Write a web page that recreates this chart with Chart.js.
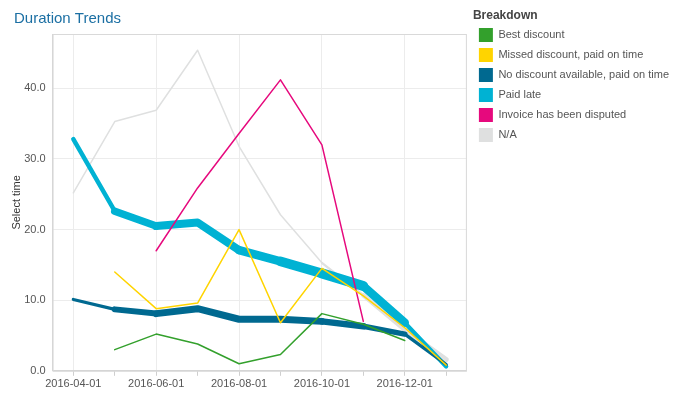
<!DOCTYPE html>
<html>
<head>
<meta charset="utf-8">
<script src="https://cdn.jsdelivr.net/npm/chart.js@4.4.0/dist/chart.umd.min.js"></script>
<style>
body { margin: 0; background: #fff; }
#wrap { width: 686px; height: 399px; }
</style>
</head>
<body>
<div id="wrap"><canvas id="trend"></canvas></div>
<script>
// monthly buckets
const months = ['2016-04-01', '2016-05-01', '2016-06-01', '2016-07-01', '2016-08-01',
    '2016-09-01', '2016-10-01', '2016-11-01', '2016-12-01', '2017-01-01'];

// average duration per breakdown
const bestDiscount = [null, 3.0, 5.2, 3.8, 1.0, 2.3, 8.1, 6.6, 4.3, null];
const missedDiscount = [null, 14.0, 8.8, 9.6, 20.0, 6.8, 14.5, 10.6, 6.1, 0.8];
const noDiscount = [10.1, 8.7, 8.1, 8.8, 7.3, 7.3, 7.0, 6.3, 5.2, 0.9];
const paidLate = [32.8, 22.6, 20.5, 21.0, 17.1, 15.5, 13.8, 12.0, 6.8, 0.6];
const disputed = [null, null, 17.0, 25.9, 33.6, 41.2, 32.0, 7.0, null, null];
const notAvailable = [25.2, 35.3, 36.9, 45.4, 31.8, 22.1, 15.3, 10.7, 5.8, 1.6];

// invoice counts (drawn as line thickness)
const bestDiscountCount = [null, 12, 15, 10, 8, 10, 20, 18, 14, null];
const missedDiscountCount = [null, 10, 14, 12, 18, 12, 22, 20, 16, 8];
const noDiscountCount = [30, 100, 140, 140, 140, 140, 140, 120, 100, 20];
const paidLateCount = [40, 140, 160, 160, 160, 180, 200, 200, 140, 20];
const disputedCount = [null, null, 8, 10, 12, 14, 10, 6, null, null];
const notAvailableCount = [20, 20, 20, 20, 20, 20, 20, 60, 120, 80];

const yTicks = [0, 10, 20, 30, 40];

function thickness(count) {
    if (count == null) return 1.5;
    return Math.max(1.5, count / 20);
}

function series(label, color, values, counts, order) {
    return {
        label: label,
        data: values,
        borderColor: color,
        backgroundColor: color,
        borderWidth: 1.5,
        borderCapStyle: 'round',
        borderJoinStyle: 'round',
        pointRadius: 0,
        tension: 0,
        order: order,
        segment: {
            borderWidth: ctx => (thickness(counts[ctx.p0DataIndex]) + thickness(counts[ctx.p1DataIndex])) / 2
        }
    };
}

// plot frame
const frame = {
    id: 'frame',
    beforeDatasetsDraw(chart) {
        var a = chart.chartArea;
        var c = chart.ctx;
        c.save();
        c.strokeStyle = '#d9d9d9';
        c.lineWidth = 1;
        c.strokeRect(a.left + 0.5, a.top + 0.5, a.right - a.left - 1, a.bottom - a.top);
        c.restore();
    }
};

Chart.defaults.font.family = "'Liberation Sans', Arial, sans-serif";
Chart.defaults.font.size = 11;
Chart.defaults.color = '#555';

const config = {
    type: 'line',
    data: {
        labels: months,
        datasets: [
            series('Best discount', '#33a02c', bestDiscount, bestDiscountCount, 0),
            series('Missed discount, paid on time', '#ffd400', missedDiscount, missedDiscountCount, 0),
            series('No discount available, paid on time', '#006990', noDiscount, noDiscountCount, 1),
            series('Paid late', '#00b2d3', paidLate, paidLateCount, 2),
            series('Invoice has been disputed', '#e6097d', disputed, disputedCount, 0),
            series('N/A', '#dfe0e0', notAvailable, notAvailableCount, 3)
        ]
    },
    options: {
        responsive: true,
        maintainAspectRatio: false,
        animation: false,
        layout: { padding: { left: 14, right: 7, top: 0, bottom: 6 } },
        plugins: {
            tooltip: { enabled: false },
            title: {
                display: true,
                text: 'Duration Trends',
                align: 'start',
                color: '#1b6fa3',
                font: { size: 15, weight: 'normal', lineHeight: 1.2 },
                padding: { top: 10, bottom: 6 }
            },
            legend: {
                position: 'right',
                align: 'start',
                maxWidth: 260,
                title: {
                    display: true,
                    text: 'Breakdown',
                    position: 'start',
                    color: '#444',
                    font: { size: 12, weight: 'bold', lineHeight: 1 },
                    padding: { top: 10, bottom: 0 }
                },
                labels: {
                    boxWidth: 14,
                    boxHeight: 14,
                    padding: 6,
                    color: '#555',
                    sort: (a, b) => a.datasetIndex - b.datasetIndex,
                    generateLabels: chart => Chart.defaults.plugins.legend.labels.generateLabels(chart)
                        .map(l => Object.assign(l, { lineWidth: 0 }))
                }
            }
        },
        scales: {
            x: {
                offset: true,
                grid: {
                    color: ctx => ctx.index % 2 ? 'rgba(0,0,0,0)' : '#ececec',
                    tickColor: '#cfcfcf',
                    tickLength: 5
                },
                border: { color: '#d4d4d4' },
                ticks: {
                    autoSkip: false,
                    maxRotation: 0,
                    padding: 2,
                    callback: function (value, index) {
                        return index % 2 ? '' : months[index];
                    }
                }
            },
            y: {
                min: 0,
                max: 47.7,
                afterBuildTicks: scale => { scale.ticks = yTicks.map(v => ({ value: v })); },
                grid: { color: '#ececec', drawTicks: false },
                border: { color: '#d4d4d4' },
                ticks: {
                    padding: 7,
                    callback: v => v.toFixed(1)
                },
                title: {
                    display: true,
                    text: 'Select time',
                    color: '#333',
                    font: { size: 11 },
                    padding: { top: -4, bottom: -6 }
                }
            },
            gap: {
                position: 'right',
                display: true,
                grid: { display: false },
                border: { display: false },
                ticks: { display: false },
                afterFit: scale => { scale.width = 6; }
            }
        }
    },
    plugins: [frame]
};

new Chart(document.getElementById('trend'), config);
</script>
</body>
</html>
